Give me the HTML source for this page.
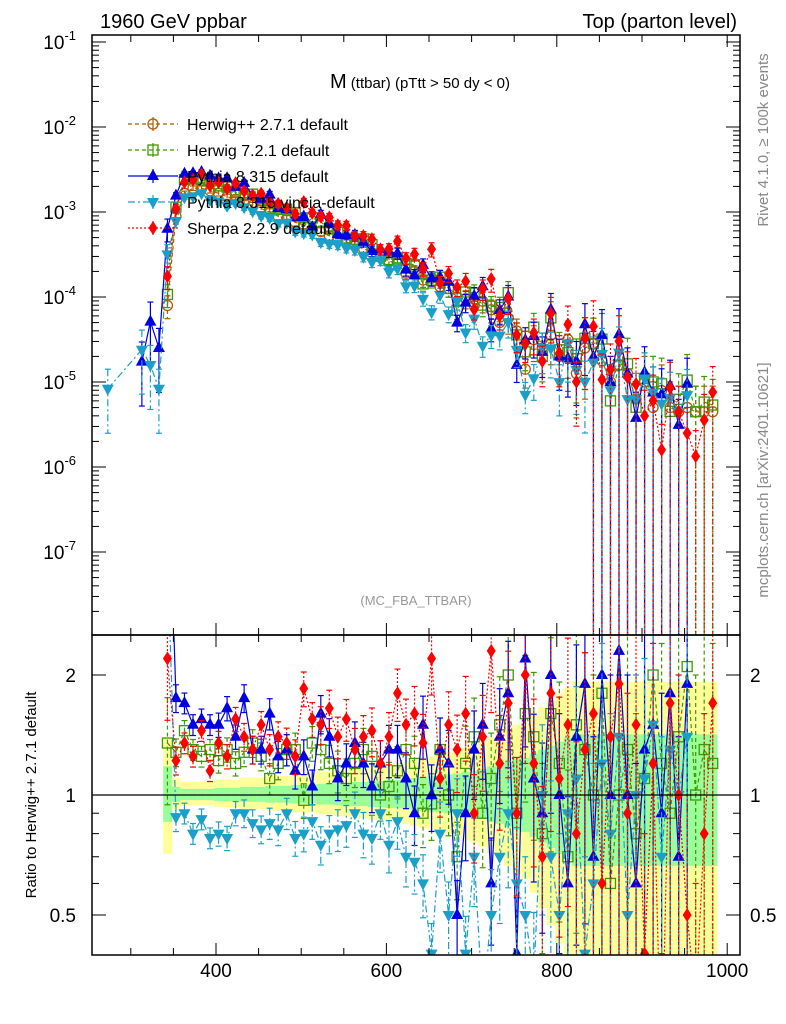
<!DOCTYPE html>
<html><head><meta charset="utf-8"><style>
html,body{margin:0;background:#fff;width:786px;height:1024px;overflow:hidden;font-family:"Liberation Sans",sans-serif}
svg{display:block;overflow:hidden}
svg text{font-family:"Liberation Sans",sans-serif}
</style></head><body>
<svg id="c" width="786" height="1024" xmlns="http://www.w3.org/2000/svg">
<defs>
<clipPath id="cm"><rect x="92" y="35" width="648" height="600"/></clipPath>
<clipPath id="cr"><rect x="92" y="635" width="648" height="320"/></clipPath>
</defs>
<text x="100" y="28" font-size="20">1960 GeV ppbar</text>
<text x="737" y="28" font-size="20" text-anchor="end">Top (parton level)</text>
<text x="420" y="88" font-size="20" text-anchor="middle">M<tspan font-size="15"> (ttbar) (pTtt &gt; 50 dy &lt; 0)</tspan></text>
<text x="416" y="605" font-size="13" fill="#999" text-anchor="middle">(MC_FBA_TTBAR)</text>
<text transform="translate(768,140) rotate(-90)" font-size="15" fill="#888" text-anchor="middle">Rivet 4.1.0, ≥ 100k events</text>
<text transform="translate(768,480) rotate(-90)" font-size="15" fill="#888" text-anchor="middle">mcplots.cern.ch [arXiv:2401.10621]</text>
<text transform="translate(36,795) rotate(-90)" font-size="15" text-anchor="middle">Ratio to Herwig++ 2.7.1 default</text>
<g id="bands" clip-path="url(#cr)"></g>
<g id="mainG" clip-path="url(#cm)"></g>
<g id="ratG" clip-path="url(#cr)"></g>
<g id="axes"></g>
<g id="legend"></g>
</svg>
<script>
const binStart = 343, binWidth = 10;
const herwigLog = [-4.1,-3.05,-2.78,-2.72,-2.72,-2.75,-2.78,-2.82,-2.85,-2.9,-2.92,-2.96,-3.0,-3.05,-3.08,-3.12,-3.15,-3.2,-3.23,-3.28,-3.3,-3.35,-3.4,-3.43,-3.48,-3.52,-3.58,-3.6,-3.72,-3.7,-3.8,-3.78,-3.88,-3.9,-4.0,-4.02,-4.1,-4.05,-4.15,-4.3,-4.25,-4.4,-4.85,-4.5,-4.6,-4.45,-4.7,-4.5,-4.9,-4.6,-4.55,-4.75,-5.0,-4.8,-4.9,-5.2,-5.0,-5.3,-5.1,-5.3,-5.35,-5.3,-5.35,-5.35,-5.35,null];
const herwig7Ratio = [1.35,1.28,1.45,1.3,1.25,1.3,1.22,1.3,1.2,1.28,1.35,1.25,1.1,1.2,1.3,1.3,0.97,1.35,1.3,1.2,1.15,1.1,1.2,1.3,1.25,1.0,1.05,1.15,1.3,1.2,0.9,0.95,1.3,1.0,0.7,1.2,1.4,0.9,1.1,1.5,2.0,0.9,1.6,1.4,0.8,1.6,1.2,0.7,1.5,1.3,1.0,1.8,0.6,1.0,1.3,0.8,1.1,2.0,1.2,0.9,1.4,2.1,1.0,1.3,1.2,null];
const pythiaRatio = [8,1.75,1.7,1.5,1.55,1.5,1.5,1.65,1.4,1.75,1.3,1.3,1.6,1.25,1.3,1.15,1.25,1.05,1.6,1.4,1.1,1.2,1.35,1.2,1.05,1.2,1.3,1.3,1.1,0.9,1.5,1.0,1.3,1.2,0.5,0.9,1.3,1.5,0.6,1.4,1.8,0.4,2.2,1.1,0.9,2.0,1.0,0.6,1.4,1.9,0.7,2.0,1.0,2.3,1.0,0.6,1.3,1.5,0.9,1.8,0.7,1.9,null,null,null,null];
const vinciaRatio = [4,0.88,0.9,0.8,0.87,0.78,0.8,0.78,0.9,0.9,0.85,0.82,0.85,0.82,0.9,0.78,0.8,0.86,0.75,0.8,0.82,0.84,0.9,0.8,0.78,0.9,0.75,0.86,0.7,0.68,0.6,0.4,0.8,0.5,0.9,0.4,0.7,0.3,0.5,0.7,0.9,0.6,0.5,0.35,1.0,0.7,0.5,0.9,1.1,0.4,0.6,1.2,0.8,1.4,0.5,1.0,1.1,1.5,0.7,1.3,1.0,1.4,null,null,null,null];
const sherpaRatio = [2.2,1.22,1.35,1.25,1.45,1.15,1.35,1.25,1.55,1.4,1.3,1.5,1.3,1.4,1.35,1.25,1.85,1.55,1.5,1.65,1.4,1.55,1.3,1.4,1.45,1.2,1.4,1.8,1.5,1.6,1.35,2.2,1.1,1.5,1.3,1.6,0.9,1.4,2.3,1.2,1.7,0.9,2.0,1.2,0.7,1.8,1.1,1.5,0.8,1.3,1.6,0.6,1.4,1.9,0.9,1.5,0.4,1.2,0.2,1.7,1.0,0.5,0.3,0.8,1.7,2.3];
const relErr = [0.3,0.08,0.06,0.06,0.06,0.06,0.07,0.07,0.07,0.08,0.08,0.08,0.09,0.09,0.09,0.1,0.1,0.1,0.11,0.11,0.12,0.12,0.13,0.13,0.14,0.14,0.15,0.15,0.16,0.17,0.18,0.19,0.2,0.21,0.22,0.24,0.25,0.27,0.3,0.32,0.35,0.38,0.4,0.45,0.5,0.55,0.6,0.65,0.7,0.75,1,1,1,1,1,1,1,1,1,1,1,1,1,1,1,1];
const pythiaLowX = [313,323,333];
const pythiaLowLog = [-4.76,-4.29,-4.6];
const vinciaLowX = [273,313,323,333];
const vinciaLowLog = [-5.08,-4.62,-4.8,-5.08];
const xTicks = [400,600,800,1000];
const yTickExps = [-1,-2,-3,-4,-5,-6,-7];
const ratioTicks = [2,1,0.5];

const NS="http://www.w3.org/2000/svg";
const X = v => 216 + (v-400)*0.852;
const YM = lg => 212 - (lg+3)*85;
const YR = r => 795 - 398.6*Math.log10(r);
function el(tag, attrs, parent){const e=document.createElementNS(NS,tag);for(const k in attrs)e.setAttribute(k,attrs[k]);parent.appendChild(e);return e;}
const mainG=document.getElementById('mainG'), ratG=document.getElementById('ratG'), axes=document.getElementById('axes'), bandsG=document.getElementById('bands'), legG=document.getElementById('legend');
const bins = herwigLog.map((_,i)=>binStart+binWidth*i);

bins.forEach((b,i)=>{
  if(herwigLog[i]===null) return;
  const e=Math.min(relErr[i],0.7)*0.6;
  const x0=X(b-5), w=X(b+5)-X(b-5)+0.5;
  const ylo=Math.max(1-1.6*e,0.3), yhi=1+2.2*e;
  let r=el('rect',{x:x0,y:YR(yhi),width:w,height:YR(ylo)-YR(yhi),fill:'#ffff99'},bandsG);
  
  
  const glo=Math.max(1-0.8*e,0.3), ghi=1+e;
  r=el('rect',{x:x0,y:YR(ghi),width:w,height:YR(glo)-YR(ghi),fill:'#99ff99'},bandsG);
  
  
});

const series=[
 {name:'herwig-pp',label:'Herwig++ 2.7.1 default',color:'#b35900',dash:'4,3',marker:'circle',ratio:herwigLog.map(v=>v===null?null:1)},
 {name:'herwig-7',label:'Herwig 7.2.1 default',color:'#3c9a00',dash:'4,3',marker:'square',ratio:herwig7Ratio},
 {name:'pythia',label:'Pythia 8.315 default',color:'#0000e0',dash:'',marker:'up',ratio:pythiaRatio},
 {name:'vincia',label:'Pythia 8.315 vincia-default',color:'#1aa0c8',dash:'7,3,2,3',marker:'down',ratio:vinciaRatio},
 {name:'sherpa',label:'Sherpa 2.2.9 default',color:'#ff0000',dash:'2,2',marker:'diamond',ratio:sherpaRatio}
];
function marker(s,x,y,g){
  let m;
  if(s.marker==='circle') m=el('circle',{cx:x,cy:y,r:5,fill:'none',stroke:s.color,'stroke-width':1.3},g);
  else if(s.marker==='square') m=el('rect',{x:x-5,y:y-5,width:10,height:10,fill:'none',stroke:s.color,'stroke-width':1.3},g);
  else if(s.marker==='up') m=el('polygon',{points:`${x},${y-7} ${x-6},${y+4} ${x+6},${y+4}`,fill:s.color},g);
  else if(s.marker==='down') m=el('polygon',{points:`${x},${y+7} ${x-6},${y-4} ${x+6},${y-4}`,fill:s.color},g);
  else m=el('polygon',{points:`${x},${y-7} ${x-4.5},${y} ${x},${y+7} ${x+4.5},${y}`,fill:s.color},g);
  return m;
}
function drawSeries(s, pts, g, isMain){
  const sg=el('g',{},g);
  
  
  if(!isMain && s.name==='herwig-pp') return;
  let d='';
  pts.forEach(p=>{d+=(d===''?'M':'L')+p.x.toFixed(1)+','+p.y.toFixed(1);});
  if(d){const l=el('path',{d:d,fill:'none',stroke:s.color,'stroke-width':1.2,'stroke-dasharray':s.dash},sg);
    
    }
  pts.forEach(p=>{
    const eb=el('line',{x1:p.x,x2:p.x,y1:p.yhi,y2:p.ylo,stroke:s.color,'stroke-width':1.2,'stroke-dasharray':s.dash},sg);
    
    
    el('line',{x1:p.x-3,x2:p.x+3,y1:p.yhi,y2:p.yhi,stroke:s.color,'stroke-width':1.2},sg);
    el('line',{x1:p.x-3,x2:p.x+3,y1:p.ylo,y2:p.ylo,stroke:s.color,'stroke-width':1.2},sg);
    const m=marker(s,p.x,p.y,sg);
    
    
  });
}
series.forEach(s=>{
  const mp=[], rp=[];
  const addLow=(xs,ls)=>xs.forEach((xv,i)=>{const e=0.7;mp.push({x:X(xv),y:YM(ls[i]),yhi:YM(ls[i]+Math.log10(1+e)),ylo:YM(ls[i]+Math.log10(1-e))});});
  if(s.name==='pythia') addLow(pythiaLowX,pythiaLowLog);
  if(s.name==='vincia') addLow(vinciaLowX,vinciaLowLog);
  bins.forEach((b,i)=>{
    const r=s.ratio[i], h=herwigLog[i];
    if(r===null||r===undefined||h===null) return;
    const lg=h+Math.log10(r), e=relErr[i];
    const lo=1-e>0.01?lg+Math.log10(1-e):-9;
    mp.push({x:X(b),y:YM(lg),yhi:YM(lg+Math.log10(1+e)),ylo:YM(lo)});
    const rlo=r*(1-e)>0.05?r*(1-e):0.05;
    rp.push({x:X(b),y:YR(r),yhi:YR(r*(1+e)),ylo:YR(rlo)});
  });
  drawSeries(s,mp,mainG,true);
  drawSeries(s,rp,ratG,false);
});

let f=el('rect',{x:92,y:35,width:648,height:600,fill:'none',stroke:'#000','stroke-width':1.5},axes);


f=el('rect',{x:92,y:635,width:648,height:320,fill:'none',stroke:'#000','stroke-width':1.5},axes);


el('line',{x1:92,x2:740,y1:YR(1),y2:YR(1),stroke:'#000','stroke-width':1.2},axes);
for(let v=300;v<=1000;v+=50){
  const len=(v%200===0)?12:7;
  el('line',{x1:X(v),x2:X(v),y1:955,y2:955-len,stroke:'#000'},axes);
  el('line',{x1:X(v),x2:X(v),y1:635,y2:635+len,stroke:'#000'},axes);
  el('line',{x1:X(v),x2:X(v),y1:635,y2:635-len,stroke:'#000'},axes);
  el('line',{x1:X(v),x2:X(v),y1:35,y2:35+len,stroke:'#000'},axes);
}
xTicks.forEach(v=>{
  const t=el('text',{x:X(v),y:977,'font-size':19,'text-anchor':'middle'},axes);
  t.textContent=v;
  
  
});
for(let e=-8;e<=-1;e++){
  for(let k=1;k<10;k++){
    const lg=e+Math.log10(k), y=YM(lg);
    if(y<35||y>635) continue;
    const len=k===1?14:7;
    el('line',{x1:92,x2:92+len,y1:y,y2:y,stroke:'#000'},axes);
    el('line',{x1:740,x2:740-len,y1:y,y2:y,stroke:'#000'},axes);
  }
}
yTickExps.forEach(e=>{
  const t=el('text',{x:76,y:YM(e)+7,'font-size':19,'text-anchor':'end'},axes);
  
  
  t.innerHTML='10<tspan dy="-9" font-size="13">'+e+'</tspan>';
});
[0.5,0.6,0.7,0.8,0.9,1,2].forEach(r=>{
  const len=(r===0.5||r===1||r===2)?14:7;
  el('line',{x1:92,x2:92+len,y1:YR(r),y2:YR(r),stroke:'#000'},axes);
  el('line',{x1:740,x2:740-len,y1:YR(r),y2:YR(r),stroke:'#000'},axes);
});
ratioTicks.forEach(r=>{
  let t=el('text',{x:76,y:YR(r)+7,'font-size':19,'text-anchor':'end'},axes);
  t.textContent=r;
  
  
  t=el('text',{x:750,y:YR(r)+7,'font-size':19},axes);
  t.textContent=r;
  
  
});
series.forEach((s,i)=>{
  const y=124+i*26;
  const g=el('g',{},legG);
  
  
  el('line',{x1:128,x2:178,y1:y,y2:y,stroke:s.color,'stroke-width':1.2,'stroke-dasharray':s.dash},g);
  el('line',{x1:153,x2:153,y1:y-7,y2:y+7,stroke:s.color,'stroke-width':1.2},g);
  marker(s,153,y,g);
  const t=el('text',{x:187,y:y+6,'font-size':16},g);
  t.textContent=s.label;
});
</script>
</body></html>
